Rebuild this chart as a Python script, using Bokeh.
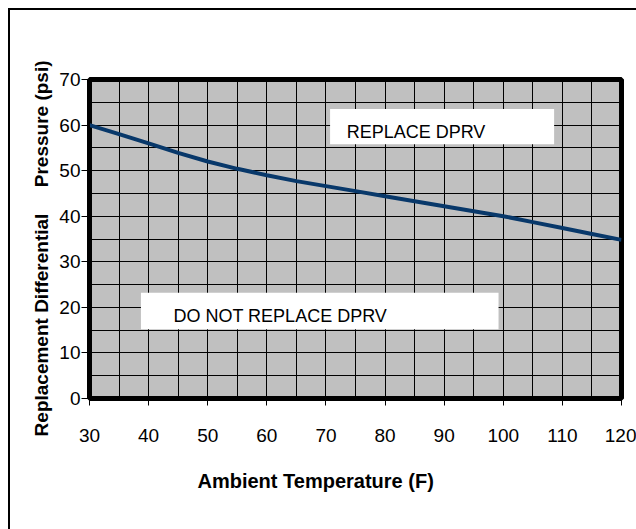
from bokeh.plotting import figure
from bokeh.models import Range1d, BoxAnnotation, Label, Title, FixedTicker
from bokeh.embed import file_html
from bokeh.resources import INLINE

# ---- data ----
temps = [30, 35, 40, 45, 50, 55, 60, 65, 70, 75, 80, 85, 90, 95, 100, 105, 110, 115, 120]
pressure = [60.0, 58.0, 56.0, 53.9, 52.0, 50.4, 49.0, 47.7, 46.6, 45.5, 44.4, 43.3,
            42.2, 41.1, 40.0, 38.7, 37.4, 36.1, 34.8]
x_ticks = [30, 40, 50, 60, 70, 80, 90, 100, 110, 120]
y_ticks = [0, 10, 20, 30, 40, 50, 60, 70]
x_grid = [30, 35, 40, 45, 50, 55, 60, 65, 70, 75, 80, 85, 90, 95, 100, 105, 110, 115, 120]
y_grid = [0, 5, 10, 15, 20, 25, 30, 35, 40, 45, 50, 55, 60, 65, 70]
region_labels = ["REPLACE DPRV", "DO NOT REPLACE DPRV"]
x_title = "Ambient Temperature (F)"
y_title = "Replacement Differential\u00a0\u00a0\u00a0\u00a0\u00a0Pressure (psi)"

FONT = "Liberation Sans"

p = figure(width=628, height=521, x_range=Range1d(30, 120), y_range=Range1d(0, 70),
           output_backend="svg", toolbar_location=None,
           min_border_left=81, min_border_right=15, min_border_top=71, min_border_bottom=131)
p.margin = (8, 0, 0, 8)
p.styles = {"box-shadow": "inset 2px 2px 0 0 black"}

p.background_fill_color = "#c0c0c0"
p.border_fill_alpha = 0.0
p.outline_line_color = "black"
p.outline_line_width = 5

p.xaxis.ticker = FixedTicker(ticks=x_ticks, minor_ticks=x_grid)
p.yaxis.ticker = FixedTicker(ticks=y_ticks, minor_ticks=y_grid)

for g in (p.xgrid, p.ygrid):
    g.grid_line_color = "black"
    g.grid_line_width = 1
    g.minor_grid_line_color = "black"
    g.minor_grid_line_width = 1

for ax in (p.xaxis, p.yaxis):
    ax.axis_line_color = "black"
    ax.major_tick_line_color = "black"
    ax.minor_tick_line_color = None
    ax.major_tick_in = 0
    ax.major_label_text_font = FONT
    ax.major_label_text_font_size = "19px"
    ax.major_label_text_color = "black"

p.xaxis.major_tick_out = 7
p.xaxis.major_label_standoff = 23
p.yaxis.major_tick_out = 8
p.yaxis.major_label_standoff = 1

p.line(temps, pressure, line_color="#08386a", line_width=4)

# region label boxes
p.add_layout(BoxAnnotation(left=70.7, right=108.6, bottom=55.8, top=63.5,
                           fill_color="white", fill_alpha=1.0, line_color=None))
p.add_layout(BoxAnnotation(left=38.7, right=99.2, bottom=15.2, top=23.2,
                           fill_color="white", fill_alpha=1.0, line_color=None))
p.add_layout(Label(x=73.5, y=58.4, text=region_labels[0], text_font=FONT,
                   text_font_size="18px", text_color="black", text_baseline="alphabetic"))
p.add_layout(Label(x=44.2, y=18.2, text=region_labels[1], text_font=FONT,
                   text_font_size="18px", text_color="black", text_baseline="alphabetic"))

# axis titles
p.add_layout(Title(text=x_title, align="left", offset=108, text_font=FONT,
                   text_font_size="20px", text_font_style="bold", text_color="black",
                   standoff=46), "below")
p.add_layout(Title(text=y_title, align="right", offset=-19, text_font=FONT,
                   text_font_size="19px", text_font_style="bold", text_color="black",
                   standoff=10), "left")

open("out.html", "w").write(file_html(p, INLINE))
